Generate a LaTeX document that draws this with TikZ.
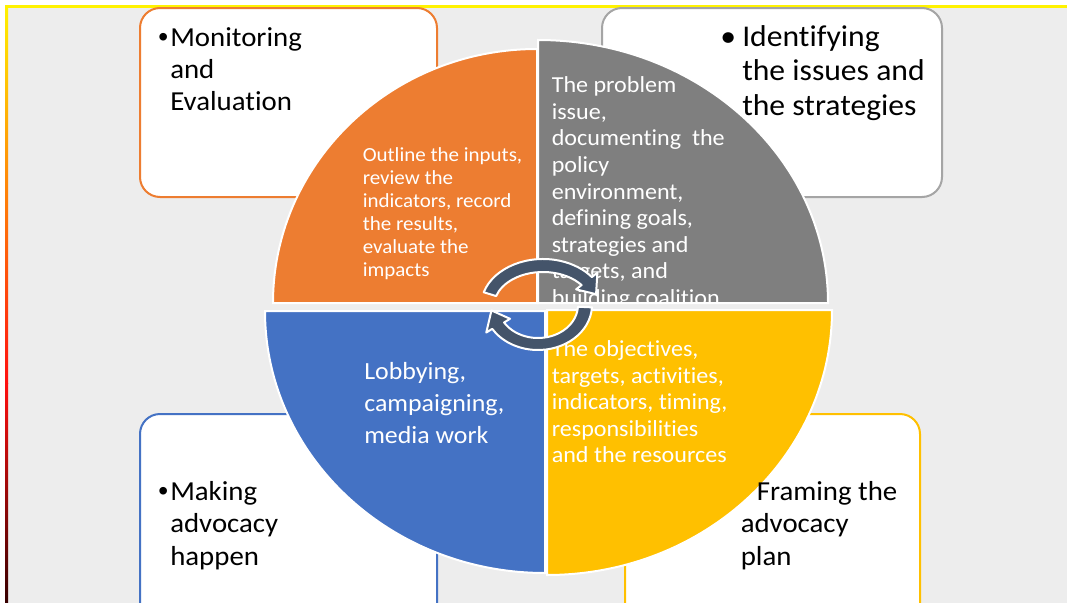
\documentclass[tikz,border=0pt]{standalone}
\usepackage{fontspec}
\setmainfont{Carlito}[FakeStretch=1.05, Ligatures={NoCommon}]
\newfontfamily\bulletfont{Liberation Sans}
\definecolor{cOrange}{HTML}{ED7D31}
\definecolor{cGrayPie}{HTML}{7F7F7F}
\definecolor{cGrayBox}{HTML}{A5A5A5}
\definecolor{cBlue}{HTML}{4472C4}
\definecolor{cYellow}{HTML}{FFC000}
\definecolor{cSlate}{HTML}{44546A}
\definecolor{cBg}{HTML}{EDEDED}
\definecolor{cLineY}{HTML}{FFF200}
\definecolor{cLineR}{HTML}{FF1010}
\definecolor{cLineD}{HTML}{350000}
\begin{document}
\begin{tikzpicture}[x=0.75pt,y=-0.75pt,
  boxframe/.style={line width=1.5pt, fill=white, rounded corners=15pt},
  slice/.style={draw=white, line width=1.5pt},
  cyc/.style={fill=cSlate, draw=white, line width=1.5pt, line join=round},
  btxt/.style={anchor=base west, inner sep=0pt, text=black, font=\fontsize{20.6pt}{24pt}\selectfont},
  bbul/.style={anchor=base west, inner sep=0pt, text=black, font=\bulletfont\fontsize{21pt}{24pt}\selectfont},
  btxtbig/.style={anchor=base west, inner sep=0pt, text=black, font=\fontsize{22.6pt}{26pt}\selectfont},
  otxt/.style={anchor=base west, inner sep=0pt, text=white, font=\fontsize{15pt}{18pt}\selectfont},
  gtxt/.style={anchor=base west, inner sep=0pt, text=white, font=\fontsize{17.2pt}{20pt}\selectfont},
  ltxt/.style={anchor=base west, inner sep=0pt, text=white, font=\fontsize{18.5pt}{22pt}\selectfont}
]
\useasboundingbox (0,0) rectangle (1067,603);
\begin{scope}
\clip (0,0) rectangle (1067,603);
% background
\fill[white] (0,0) rectangle (1067,603);
\fill[cBg] (7.5,7) rectangle (1067,603);
\fill[cLineY] (5,5) rectangle (1067,7.5);
\shade[top color=cLineY, bottom color=cLineR] (5,5) rectangle (8,383);
\shade[top color=cLineR, bottom color=cLineD] (5,383) rectangle (8,603);

% boxes
\draw[boxframe, draw=cOrange] (140,8) rectangle (437,197);
\draw[boxframe, draw=cGrayBox] (602,8) rectangle (942,197);
\draw[boxframe, draw=cBlue] (140,414) rectangle (437,625);
\draw[boxframe, draw=cYellow] (625,414) rectangle (920,625);

% pie slices
\filldraw[slice, fill=cOrange] (537,303) -- (273,303)
  arc[start angle=180, end angle=270, x radius=264, y radius=254] -- cycle;
\filldraw[slice, fill=cGrayPie] (538,303) -- (538,40)
  arc[start angle=270, end angle=360, x radius=290, y radius=263] -- cycle;
\filldraw[slice, fill=cYellow] (547,310) -- (832,310)
  arc[start angle=0, end angle=90, x radius=285, y radius=265] -- cycle;
\filldraw[slice, fill=cBlue] (545,311) -- (545,573)
  arc[start angle=90, end angle=180, x radius=280, y radius=262] -- cycle;

% pie texts
\foreach \t [count=\i from 0] in {{Outline the inputs,},{review the},{indicators, record},{the results,},{evaluate the},{impacts}}
  \node[otxt] (o\i) at (362.5,{161.7+23*\i}) {\t};
\begin{scope}
\clip (539,41) rectangle (840,302);
\foreach \t [count=\i from 0] in {{The problem},{issue,},{documenting\ \ the},{policy},{environment,},{defining goals,},{strategies and},{targets, and},{building coalition}}
  \node[gtxt] (g\i) at (551.5,{92.7+26.6*\i}) {\t};
\end{scope}
\foreach \t [count=\i from 0] in {{The objectives,},{targets, activities,},{indicators, timing,},{responsibilities},{and the resources}}
  \node[gtxt] (y\i) at (551.5,{356.7+26.5*\i}) {\t};
\foreach \t [count=\i from 0] in {{Lobbying,},{campaigning,},{media work}}
  \node[ltxt] (l\i) at (364,{379+32*\i}) {\t};

% cycle arrows
\filldraw[cyc, shift={(543,306)}]
  (197:62 and 47) arc[start angle=197, end angle=322, x radius=62, y radius=47]
  -- (322:69 and 54) -- (343:55.5 and 40.5) -- (322:42 and 27)
  -- (322:49 and 34) arc[start angle=322, end angle=197, x radius=49, y radius=34] -- cycle;
\filldraw[cyc, shift={(538,305)}]
  (3:54 and 45) arc[start angle=3, end angle=148, x radius=54, y radius=45]
  -- (148:61 and 52) -- (172:47 and 39) -- (148:33 and 26)
  -- (148:40 and 33) arc[start angle=148, end angle=3, x radius=40, y radius=33] -- cycle;

% box texts
\node[bbul] (mb) at (158,46.7) {\textbullet};
\foreach \t [count=\i from 0] in {Monitoring,and,Evaluation}
  \node[btxt] (m\i) at (170,{46.7+32*\i}) {\t};
\node[btxtbig] (ib) at (720,46.7) {\textbullet};
\foreach \t [count=\i from 0] in {{Identifying},{the issues and},{the strategies}}
  \node[btxtbig] (id\i) at (742,{46.7+34.2*\i}) {\t};
\node[bbul] (kb) at (158,500) {\textbullet};
\foreach \t [count=\i from 0] in {Making,advocacy,happen}
  \node[btxt] (k\i) at (170,{500+32.6*\i}) {\t};
\node[btxt] (f0) at (756.5,500) {Framing the};
\node[btxt] (f1) at (740.5,532.6) {advocacy};
\node[btxt] (f2) at (740.5,565.2) {plan};
\end{scope}
\end{tikzpicture}
\end{document}
